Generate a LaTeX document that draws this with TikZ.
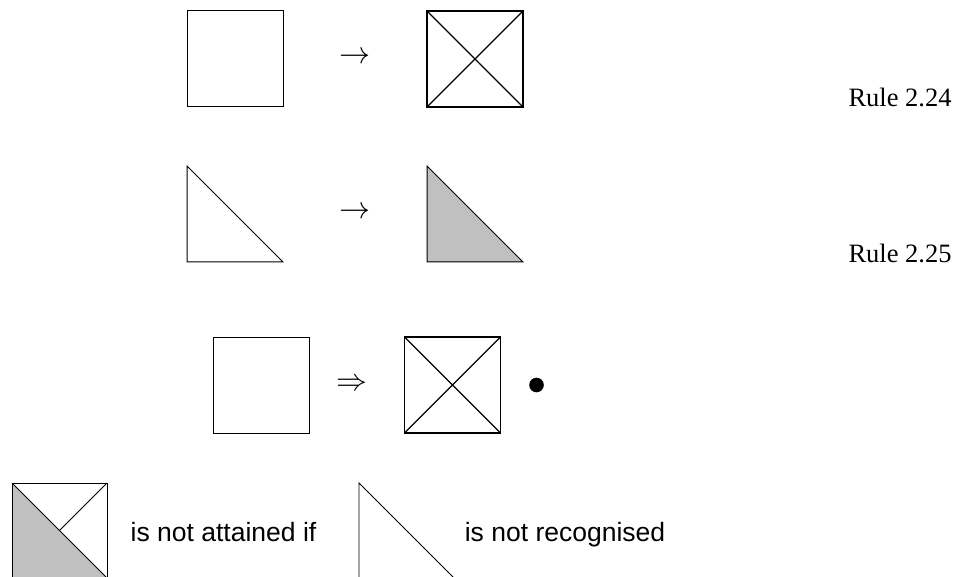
\documentclass[tikz,border=0pt]{standalone}
\usepackage{graphicx}
\usepackage{fontspec}
\setmainfont{Liberation Serif}
\newfontfamily\labelsans{Liberation Sans}
\definecolor{shadegray}{HTML}{C0C0C0}
\newcommand{\bigsym}[1]{\scalebox{3.1}{$#1$}}
\begin{document}
\begin{tikzpicture}[x=1pt,y=-1pt,line width=1pt,
  box/.style={draw=black,line width=1pt,minimum size=96pt,inner sep=0pt,outer sep=0pt,anchor=north west},
  cross/.style={line width=1.1pt},
  sym/.style={font=\normalsize,inner sep=0pt},
  rulelbl/.style={font=\fontsize{26.5}{30}\selectfont,inner sep=0pt,anchor=base west},
  note/.style={font=\labelsans\fontsize{26.5}{30}\selectfont,inner sep=0pt,anchor=base}]
\useasboundingbox (0,0) rectangle (966,577);

% Row 1
\node[box] (sqA) at (187,11) {};
\node[sym] (arA) at (355,58) {\bigsym{\rightarrow}};
\node[box,line width=1.1pt] (sqB) at (427,11) {};
\draw[cross] (sqB.north west) -- (sqB.south east) (sqB.north east) -- (sqB.south west);
\node[rulelbl] (r24) at (848,106.5) {Rule 2.24};

% Row 2
\coordinate (tA1) at (187,166);
\coordinate (tA2) at (187,262);
\coordinate (tA3) at (283,262);
\draw (tA1) -- (tA2) -- (tA3) -- cycle;
\node[sym] (arB) at (355,213) {\bigsym{\rightarrow}};
\coordinate (tB1) at (427,166);
\coordinate (tB2) at (427,262);
\coordinate (tB3) at (523,262);
\filldraw[fill=shadegray] (tB1) -- (tB2) -- (tB3) -- cycle;
\node[rulelbl] (r25) at (848,263) {Rule 2.25};

% Row 3
\node[box] (sqC) at (213,337) {};
\node[sym] (arC) at (352,385) {\bigsym{\Rightarrow}};
\node[box,line width=1.1pt] (sqD) at (404.5,337) {};
\draw[cross] (sqD.north west) -- (sqD.south east) (sqD.north east) -- (sqD.south west);
\fill (536.5,385) circle (7.3);

% Bottom row
\begin{scope}
\clip (0,0) rectangle (966,577);
\coordinate (bA1) at (12,483);
\coordinate (bA2) at (107,483);
\coordinate (bA3) at (107,578);
\coordinate (bA4) at (12,578);
\coordinate (bAc) at (59.5,530.5);
\fill[shadegray] (bA1) -- (bA4) -- (bA3) -- cycle;
\draw (bA1) rectangle (bA3);
\draw (bA1) -- (bA3);
\draw (bA2) -- (bAc);
\coordinate (bB1) at (359,483);
\coordinate (bB2) at (359,578);
\coordinate (bB3) at (454,578);
\draw[line width=0.9pt] (bB1) -- (bB2) -- (bB3) -- cycle;
\end{scope}
\node[note] (n1) at (223.5,541) {is not attained if};
\node[note] (n2) at (565,541) {is not recognised};
\end{tikzpicture}
\end{document}
